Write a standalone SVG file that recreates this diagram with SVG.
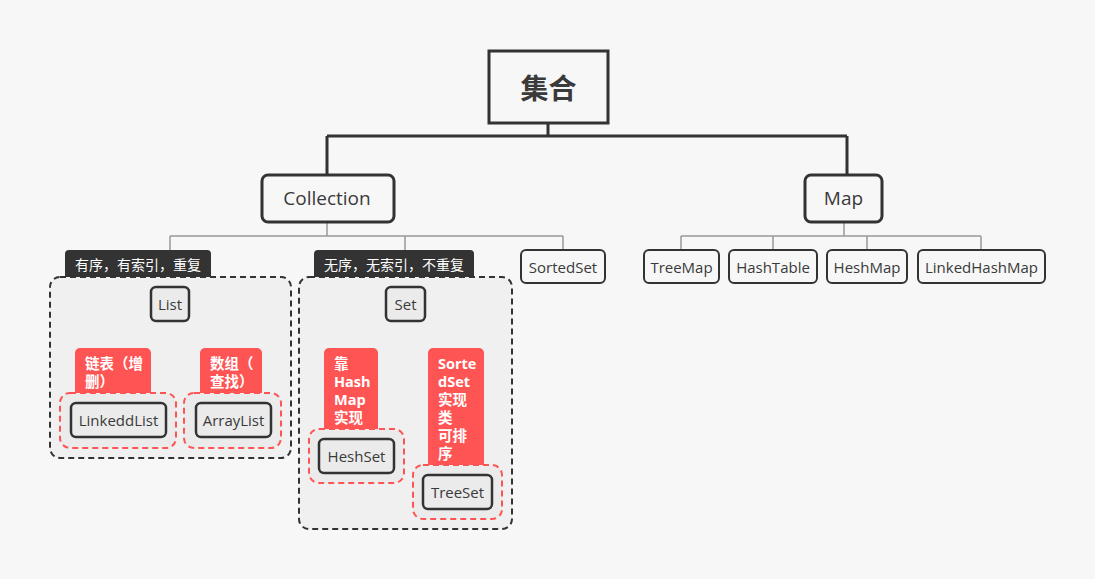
<svg xmlns="http://www.w3.org/2000/svg" width="1095" height="579" viewBox="0 0 1095 579">
<style>
.t{font-family:"Open Sans","Noto Sans CJK SC",sans-serif;fill:#3a3a3a;text-anchor:middle;dominant-baseline:central}
.s{font-size:15px}
.n{fill:#f7f7f7;stroke:#333;stroke-width:2}
.ni{fill:#ebebeb;stroke:#333;stroke-width:2.5}
.big{fill:#f7f7f7;stroke:#333;stroke-width:3}
.ln{fill:none;stroke:#999;stroke-width:1.5}
.lnb{fill:none;stroke:#333;stroke-width:3}
.grp{fill:#f0f0f0;stroke:#333;stroke-width:2;stroke-dasharray:6 4}
.rgrp{fill:#ebebeb;stroke:#ff5454;stroke-width:2;stroke-dasharray:6 4}
.dl{fill:#333}
.rl{fill:#ff5454}
.w{font-family:"Noto Sans CJK SC","Open Sans",sans-serif;fill:#fff;font-size:14px}
.wb{font-family:"Open Sans","Noto Sans CJK SC",sans-serif;fill:#fff;font-size:14.5px;font-weight:bold;dominant-baseline:central}
</style>
<rect width="1095" height="579" fill="#f7f7f7"/>
<g id="connectors">
<path class="lnb" d="M548 123V136M327 136H847M327 136V175M847 136V175"/>
<path class="ln" d="M327 222V236M170 236H563M170 236V287M405 236V287M563 236V250"/>
<path class="ln" d="M844 222V236M681 236H981M681 236V250M773 236V250M867 236V250M981 236V250"/>
<path class="ln" d="M170 321V334M118 334H232M118 334V348M232 334V348M118 393V403M232 393V403"/>
<path class="ln" d="M405 321V334M356 334H457M356 334V348M457 334V348M356 430V439M457 466V475"/>
</g>
<g id="root"><rect class="big" x="489" y="51" width="119" height="72"/><text class="t" x="548.5" y="87" font-size="28" font-weight="bold" style="font-family:'Noto Sans CJK SC',sans-serif">集合</text></g>
<g id="collection"><rect class="big" x="262" y="175" width="132" height="47" rx="6"/><text class="t" x="327" y="198" font-size="19">Collection</text></g>
<g id="map"><rect class="big" x="805" y="175" width="77" height="47" rx="6"/><text class="t" x="843.5" y="198" font-size="19">Map</text></g>
<g id="list-group">
<rect class="grp" x="50" y="277" width="241" height="181" rx="10"/>
<path class="dl" d="M65 277V254a4 4 0 0 1 4-4H207a4 4 0 0 1 4 4V277Z"/>
<text class="w" x="138" y="264" text-anchor="middle" dominant-baseline="central">有序，有索引，重复</text>
</g>
<g id="list"><rect class="ni" x="151" y="287" width="38" height="34" rx="5"/><text class="t s" x="170" y="304">List</text></g>
<g id="linkedlist">
<path class="rl" d="M75 393V353a5 5 0 0 1 5-5H146a5 5 0 0 1 5 5V393Z"/>
<text class="wb" x="85" y="363">链表（增</text>
<text class="wb" x="85" y="381">删）</text>
<rect class="rgrp" x="60" y="393" width="116" height="55" rx="10"/>
<rect class="ni" x="71" y="403" width="95" height="34" rx="5"/><text class="t s" x="118.5" y="420">LinkeddList</text>
</g>
<g id="arraylist">
<path class="rl" d="M200 393V353a5 5 0 0 1 5-5H257a5 5 0 0 1 5 5V393Z"/>
<text class="wb" x="210" y="363">数组（</text>
<text class="wb" x="210" y="381">查找）</text>
<rect class="rgrp" x="184" y="393" width="97" height="55" rx="10"/>
<rect class="ni" x="196" y="403" width="75" height="34" rx="5"/><text class="t s" x="233.5" y="420">ArrayList</text>
</g>
<g id="set-group">
<rect class="grp" x="299" y="277" width="213" height="252" rx="10"/>
<path class="dl" d="M314 277V254a4 4 0 0 1 4-4H470a4 4 0 0 1 4 4V277Z"/>
<text class="w" x="394" y="264" text-anchor="middle" dominant-baseline="central">无序，无索引，不重复</text>
</g>
<g id="set"><rect class="ni" x="386" y="287" width="39" height="34" rx="5"/><text class="t s" x="405.5" y="304">Set</text></g>
<g id="hashset">
<path class="rl" d="M324 430V353a5 5 0 0 1 5-5H373a5 5 0 0 1 5 5V430Z"/>
<text class="wb" x="334" y="363">靠</text>
<text class="wb" x="334" y="381">Hash</text>
<text class="wb" x="334" y="399">Map</text>
<text class="wb" x="334" y="417">实现</text>
<rect class="rgrp" x="309" y="429" width="95" height="54" rx="10"/>
<rect class="ni" x="319" y="439" width="75" height="34" rx="5"/><text class="t s" x="356.5" y="456">HeshSet</text>
</g>
<g id="treeset">
<path class="rl" d="M428 466V353a5 5 0 0 1 5-5H479a5 5 0 0 1 5 5V466Z"/>
<text class="wb" x="438" y="363">Sorte</text>
<text class="wb" x="438" y="381">dSet</text>
<text class="wb" x="438" y="399">实现</text>
<text class="wb" x="438" y="417">类</text>
<text class="wb" x="438" y="435">可排</text>
<text class="wb" x="438" y="453">序</text>
<rect class="rgrp" x="413" y="465" width="89" height="54" rx="10"/>
<rect class="ni" x="423" y="475" width="69" height="34" rx="5"/><text class="t s" x="457.5" y="492">TreeSet</text>
</g>
<g id="sortedset"><rect class="n" x="521" y="250" width="84" height="33" rx="5"/><text class="t s" x="563" y="266.5">SortedSet</text></g>
<g id="treemap"><rect class="n" x="644" y="250" width="75" height="33" rx="5"/><text class="t s" x="681.5" y="266.5">TreeMap</text></g>
<g id="hashtable"><rect class="n" x="729" y="250" width="88" height="33" rx="5"/><text class="t s" x="773" y="266.5">HashTable</text></g>
<g id="heshmap"><rect class="n" x="827" y="250" width="80" height="33" rx="5"/><text class="t s" x="867" y="266.5">HeshMap</text></g>
<g id="linkedhashmap"><rect class="n" x="918" y="250" width="127" height="33" rx="5"/><text class="t s" x="981.5" y="266.5">LinkedHashMap</text></g>
</svg>
